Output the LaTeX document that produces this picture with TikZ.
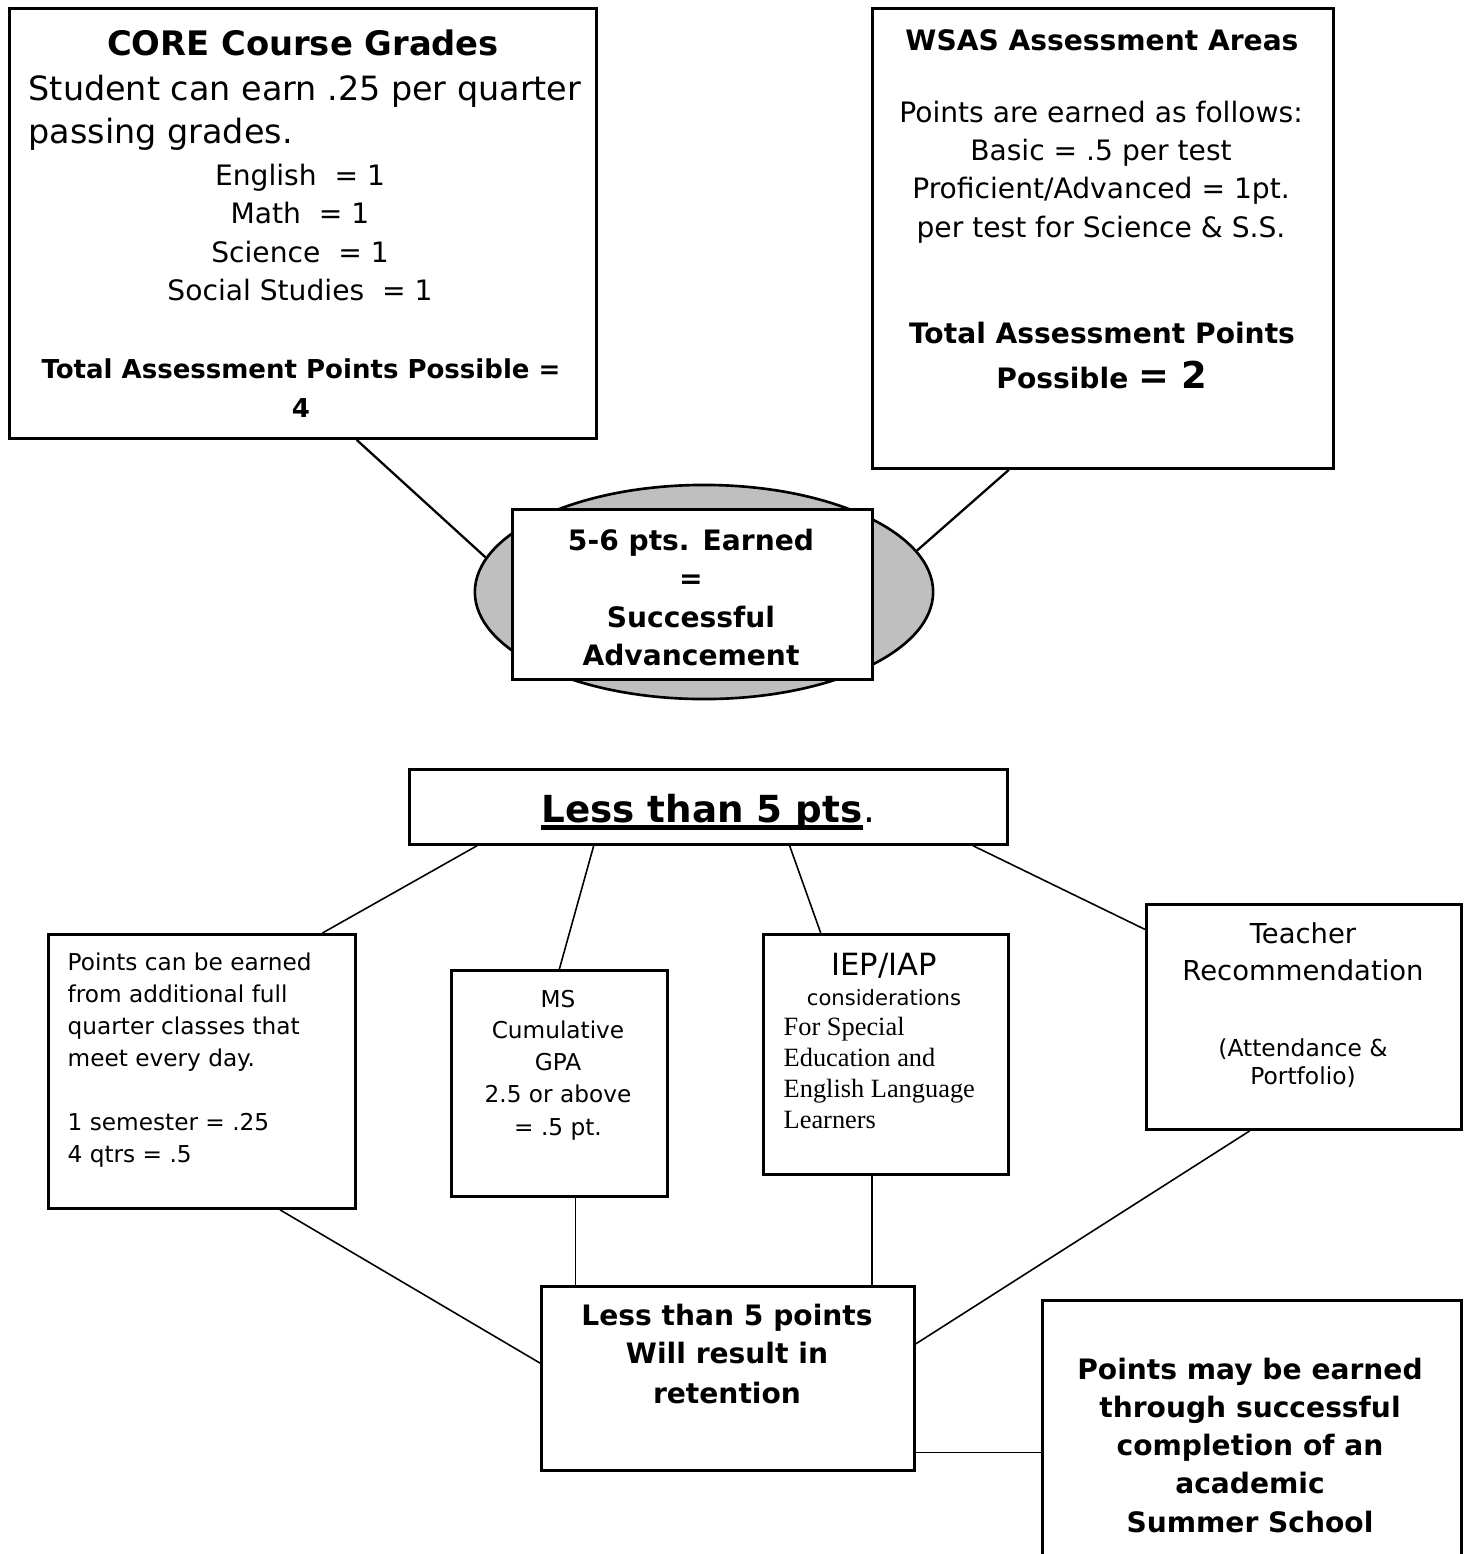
\documentclass[tikz,border=0pt]{standalone}
\usepackage{fontspec}
\setmainfont{DejaVu Sans}
\newfontfamily\serifpart{Liberation Serif}
\usepackage{tikz}
\usetikzlibrary{calc,shapes.geometric}

\newcommand{\fsz}[1]{\fontsize{#1}{#1}\selectfont}

\tikzset{
  box/.style={draw, line width=0.75pt, fill=white, anchor=north west, inner sep=0pt},
  txt/.style={anchor=base, inner sep=0pt},
  txtl/.style={anchor=base west, inner sep=0pt},
  heavy link/.style={line width=0.65pt},
  link/.style={line width=0.45pt},
}

\begin{document}
\begin{tikzpicture}[x=0.01cm, y=-0.01cm]
  \useasboundingbox (0,0) rectangle (1466,1554);
  \clip (0,0) rectangle (1466,1554);

  % upper half
  \node[box, minimum width=5.87cm, minimum height=4.30cm] (core) at (8,7) {};
  \node[box, minimum width=4.61cm, minimum height=4.60cm] (wsas) at (871,7) {};
  \node[ellipse, draw, line width=0.75pt, fill=gray!50, minimum width=4.58cm, minimum height=2.14cm] (oval) at (704,592) {};
  \node[box, minimum width=3.60cm, minimum height=1.70cm] (earned) at (511,508) {};
  \draw[heavy link] ($(core.south west)!0.591!(core.south east)$) -- (oval.171);
  \draw[heavy link] ($(wsas.south west)!0.297!(wsas.south east)$) -- (oval.11);

  \node[txt, font=\bfseries\fsz{9.6}] (coretitle) at (303,55) {CORE Course Grades};
  \node[txtl, font=\fsz{9.5}] (coreline1) at (28,100) {Student can earn .25 per quarter};
  \node[txtl, font=\fsz{9.5}] (coreline2) at (28,143) {passing grades.};
  \node[txt, font=\fsz{8}] (english) at (300,185) {English \ = 1};
  \node[txt, font=\fsz{8}] (math) at (300,223) {Math \ = 1};
  \node[txt, font=\fsz{8}] (science) at (300,262) {Science \ = 1};
  \node[txt, font=\fsz{8}] (social) at (300,300) {Social Studies \ = 1};
  \node[txt, font=\bfseries\fsz{7.4}] (coretotal) at (301,378) {Total Assessment Points Possible =};
  \node[txt, font=\bfseries\fsz{7.4}] (coresum) at (301,417) {4};

  \node[txt, font=\bfseries\fsz{8}] (wsastitle) at (1102,50) {WSAS Assessment Areas};
  \node[txt, font=\fsz{8}] (wsasline1) at (1101,122) {Points are earned as follows:};
  \node[txt, font=\fsz{8}] (wsasline2) at (1101,160) {Basic = .5 per test};
  \node[txt, font=\fsz{8}] (wsasline3) at (1101,198) {Proficient/Advanced = 1pt.};
  \node[txt, font=\fsz{8}] (wsasline4) at (1101,237) {per test for Science \& S.S.};
  \node[txt, font=\bfseries\fsz{8}] (wsastotal) at (1102,343) {Total Assessment Points};
  \node[txt, font=\bfseries\fsz{8}] (wsassum) at (1102,388) {Possible {\fsz{10.5}= 2}};

  \node[txt, font=\bfseries\fsz{8}] (earned1) at (691,550) {5-6 pts. Earned};
  \node[txt, font=\bfseries\fsz{8}] (earned2) at (691,588) {=};
  \node[txt, font=\bfseries\fsz{8}] (earned3) at (691,627) {Successful};
  \node[txt, font=\bfseries\fsz{8}] (earned4) at (691,665) {Advancement};

  % lower half
  \node[box, minimum width=5.98cm, minimum height=0.75cm] (less) at (408,768) {};
  \node[txt, font=\bfseries\fsz{10.6}] (lesstitle) at (702,822) {Less than 5 pts};
  \node[txtl, font=\fsz{10.6}] (lessdot) at (lesstitle.base east) {.};
  \draw[line width=1.3pt] ([yshift=-1.5pt]lesstitle.base west) -- ([yshift=-1.5pt]lesstitle.base east);

  \node[box, minimum width=3.07cm, minimum height=2.74cm] (extra) at (47,933) {};
  \node[box, minimum width=2.16cm, minimum height=2.26cm] (gpa) at (450,969) {};
  \node[box, minimum width=2.45cm, minimum height=2.40cm] (iep) at (762,933) {};
  \node[box, minimum width=3.15cm, minimum height=2.25cm] (teacher) at (1145,903) {};
  \node[box, minimum width=3.73cm, minimum height=1.84cm] (retain) at (540,1285) {};
  \node[box, minimum width=4.19cm, minimum height=3.00cm] (summer) at (1041,1299) {};

  \draw[link] ($(less.south west)!0.115!(less.south east)$) -- ($(extra.north west)!0.889!(extra.north east)$);
  \draw[link] ($(less.south west)!0.309!(less.south east)$) -- (gpa.north);
  \draw[link] ($(less.south west)!0.635!(less.south east)$) -- ($(iep.north west)!0.237!(iep.north east)$);
  \draw[link] ($(less.south west)!0.94!(less.south east)$) -- ($(teacher.north west)!0.116!(teacher.south west)$);
  \draw[link] ($(extra.south west)!0.752!(extra.south east)$) -- ($(retain.north west)!0.418!(retain.south west)$);
  \coordinate (gpafoot) at ($(gpa.south west)!0.574!(gpa.south east)$);
  \draw[link] (gpafoot) -- (gpafoot |- retain.north);
  \coordinate (iepfoot) at ($(iep.south west)!0.445!(iep.south east)$);
  \draw[link] (iepfoot) -- (iepfoot |- retain.north);
  \draw[link] ($(teacher.south west)!0.33!(teacher.south east)$) -- ($(retain.north east)!0.315!(retain.south east)$);
  \coordinate (retainfoot) at ($(retain.north east)!0.897!(retain.south east)$);
  \draw[link] (retainfoot) -- (retainfoot -| summer.west);

  \node[txtl, font=\fsz{6.6}] (extra1) at (67,970) {Points can be earned};
  \node[txtl, font=\fsz{6.6}] (extra2) at (67,1002) {from additional full};
  \node[txtl, font=\fsz{6.6}] (extra3) at (67,1034) {quarter classes that};
  \node[txtl, font=\fsz{6.6}] (extra4) at (67,1066) {meet every day.};
  \node[txtl, font=\fsz{6.6}] (extra5) at (67,1130) {1 semester = .25};
  \node[txtl, font=\fsz{6.6}] (extra6) at (67,1162) {4 qtrs = .5};

  \node[txt, font=\fsz{6.6}] (gpa1) at (558,1007) {MS};
  \node[txt, font=\fsz{6.6}] (gpa2) at (558,1038) {Cumulative};
  \node[txt, font=\fsz{6.6}] (gpa3) at (558,1070) {GPA};
  \node[txt, font=\fsz{6.6}] (gpa4) at (558,1102) {2.5 or above};
  \node[txt, font=\fsz{6.6}] (gpa5) at (558,1135) {= .5 pt.};

  \node[txt, font=\fsz{8.7}] (iep1) at (884,975) {IEP/IAP};
  \node[txt, font=\fsz{6}] (iep2) at (884,1005) {considerations};
  \node[txtl, font=\serifpart\fsz{7.5}] (iep3) at (783,1035) {For Special};
  \node[txtl, font=\serifpart\fsz{7.5}] (iep4) at (783,1066) {Education and};
  \node[txtl, font=\serifpart\fsz{7.5}] (iep5) at (783,1097) {English Language};
  \node[txtl, font=\serifpart\fsz{7.5}] (iep6) at (783,1128) {Learners};

  \node[txt, font=\fsz{7.8}] (teacher1) at (1303,943) {Teacher};
  \node[txt, font=\fsz{7.8}] (teacher2) at (1303,980) {Recommendation};
  \node[txt, font=\fsz{6.65}] (teacher3) at (1303,1056) {(Attendance \&};
  \node[txt, font=\fsz{6.65}] (teacher4) at (1303,1084) {Portfolio)};

  \node[txt, font=\bfseries\fsz{8}] (retain1) at (727,1325) {Less than 5 points};
  \node[txt, font=\bfseries\fsz{8}] (retain2) at (727,1363) {Will result in};
  \node[txt, font=\bfseries\fsz{8}] (retain3) at (727,1403) {retention};

  \node[txt, font=\bfseries\fsz{8}] (summer1) at (1250,1379) {Points may be earned};
  \node[txt, font=\bfseries\fsz{8}] (summer2) at (1250,1417) {through successful};
  \node[txt, font=\bfseries\fsz{8}] (summer3) at (1250,1455) {completion of an};
  \node[txt, font=\bfseries\fsz{8}] (summer4) at (1250,1493) {academic};
  \node[txt, font=\bfseries\fsz{8}] (summer5) at (1250,1532) {Summer School};
\end{tikzpicture}
\end{document}
